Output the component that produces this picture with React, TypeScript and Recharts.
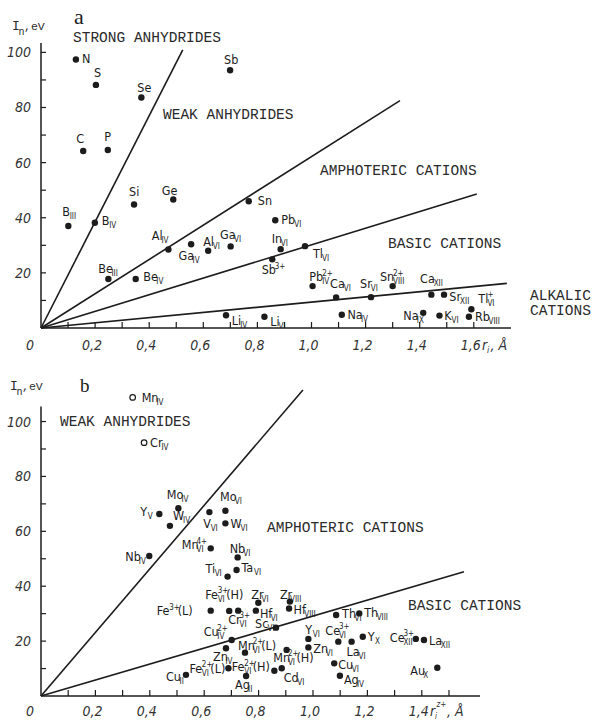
import React from "react";
import { ScatterChart, Scatter, XAxis, YAxis, ReferenceLine } from "recharts";

// ---------------- Panel a data ----------------
const aIon = ["N","S","Se","Sb","C","P","B","B","Si","Ge","Sn","Pb","Al","Ga","Al","Ga","In","Sb","Be","Be","Li","Li","Tl","Pb","Ca","Sr","Sn","Ca","Sr","Tl","Na","Na","K","Rb"];
const aCharge = ["","","","","","","","","","","","","","","","","","3+","","","","","","2+","","","2+","","","+","","","",""];
const aCoord = ["","","","","","","III","IV","","","","VI","IV","IV","VI","VI","VI","","III","IV","IV","VI","VI","IV","VI","VI","VIII","XII","XII","VI","IV","IX","VI","VIII"];
const aRadius = [0.129,0.203,0.371,0.699,0.156,0.247,0.101,0.199,0.344,0.489,0.768,0.866,0.471,0.555,0.618,0.701,0.886,0.855,0.249,0.350,0.684,0.826,0.976,1.004,1.091,1.220,1.300,1.443,1.490,1.591,1.112,1.413,1.473,1.582];
const aEnergy = [97.4,88.2,83.6,93.5,64.2,64.6,37.0,38.2,44.8,46.6,46.0,39.1,28.5,30.4,28.0,29.6,28.6,24.9,17.8,17.8,4.6,4.1,29.7,15.2,11.1,11.2,15.2,12.1,12.1,6.8,4.8,5.5,4.5,4.1];
// boundary lines from the origin (end points)
const aBoundaryR = [0.524, 1.327, 1.611, 1.722];
const aBoundaryI = [100.9, 82.5, 48.6, 16.2];
const aXTicks = [0,0.1,0.2,0.3,0.4,0.5,0.6,0.7,0.8,0.9,1.0,1.1,1.2,1.3,1.4,1.5,1.6];
const aXTickLabels = ["0","","0,2","","0,4","","0,6","","0,8","","1,0","","1,2","","1,4","","1,6"];

// ---------------- Panel b data ----------------
const bOpenIon = ["Mn","Cr"];
const bOpenCoord = ["IV","IV"];
const bOpenRadius = [0.337, 0.379];
const bOpenEnergy = [108.8, 92.3];

const bIon = ["Mo","Y","W","V","Mo","W","Nb","Mn","Nb","Ta","Ti","Fe","Fe","Cr","Zr","Hf","Zr","Hf","Sc","Cu","Mn","Zn","Fe","Fe","Mn","Cd","Ag","Cu","Y","Zn","Th","Th","Ce","La","Y","Cu","Ag","Ce","La","Au"];
const bCharge = ["","","","","","","","4+","","","","3+","3+","3+","","","","","","2+","2+","","2+","2+","2+","","","","","","","","3+","","","","","3+","",""];
const bCoord = ["IV","V","IV","VI","VI","VI","IV","VI","VI","VI","VI","","VI","VI","VI","VI","VIII","VIII","VI","IV","VI","IV","VI","VI","VI","VI","II","II","VI","VI","VI","VIII","VI","VI","X","VI","IV","XII","XII","X"];
const bSpin = ["","","","","","","","","","","","(L)","(H)","","","","","","","","(L)","","(L)","(H)","(H)","","","","","","","","","","","","","","",""];
const bRadius = [0.505,0.435,0.474,0.619,0.678,0.678,0.398,0.624,0.723,0.719,0.686,0.624,0.692,0.725,0.799,0.790,0.915,0.912,0.864,0.701,0.750,0.680,0.689,0.858,0.903,0.885,0.754,0.533,0.983,0.983,1.085,1.170,1.093,1.142,1.183,1.078,1.099,1.378,1.408,1.457];
const bEnergy = [68.4,66.3,62.0,67.0,67.5,62.9,51.0,53.8,50.5,45.9,43.5,31.1,31.0,31.1,34.0,31.1,34.4,31.9,24.9,20.4,15.8,17.4,10.1,9.2,16.8,10.1,7.3,7.7,20.8,17.7,29.5,30.1,19.8,19.8,21.6,11.9,7.4,20.8,20.4,10.3];
const bBoundaryR = [0.963, 1.555];
const bBoundaryI = [111.5, 45.3];
const bXTicks = [0,0.1,0.2,0.3,0.4,0.5,0.6,0.7,0.8,0.9,1.0,1.1,1.2,1.3,1.4,1.5];
const bXTickLabels = ["0","","0,2","","0,4","","0,6","","0,8","","1,0","","1,2","","1,4",""];

const yTicks = [0,10,20,30,40,50,60,70,80,90,100];
const yTickLabels = ["","","20","","40","","60","","80","","100"];

// ---------------- label layout (offsets of label from dot, px) ----------------
const aLabelOffset: [number, number][] = [
  [6,3],[-2,-8],[-4,-5.5],[-6,-6],[-7,-8],[-3.5,-8.5],[-6,-10],[7,2],[-5,-9],[-11.5,-5],
  [9,4],[6,4],[-16.6,-9],[-12.7,15.5],[-5,-5],[-10.7,-7],[-9,-6],[-10.6,15],[-10,-6],[7.6,2],
  [5.7,10],[5.7,9.5],[8,12],[-3.4,-5],[-6,-9],[-11,-9],[-12.7,-5],[-11.3,-12],[5.3,6.5],[7,-6.5],
  [5.6,4],[-20,7.5],[4.7,4.5],[6,4.5],
];
const bOpenLabelOffset: [number, number][] = [[9,4.5],[6,4.5]];
const bLabelOffset: [number, number][] = [
  [-11.6,-9],[-19,2],[3,-6],[-6,15.5],[-5.3,-9.5],[5,5],[-24,4.5],[-29,1],[-8,-4.5],[5,2],
  [-22,-4],[-54,4.5],[-24,-12],[-10,13],[-7,-4],[4,7],[-10,-3],[4.5,6],[-21,0],[-28,-4],
  [-7,-3],[-13,13],[-39,4.5],[-42.6,0.5],[-13.4,12],[2,14],[-11,13],[-20,6],[-3,-4.5],[5,5.5],
  [6,3],[5,4],[-13,-7],[-5,14],[5,4.5],[4,6],[4,8],[-26,3],[5,4.5],[-27,7],
];

const aData = aIon.map((ion, i) => ({
  r: aRadius[i], e: aEnergy[i], ion, charge: aCharge[i], coord: aCoord[i], spin: "", off: aLabelOffset[i], open: false,
}));
const bOpenData = bOpenIon.map((ion, i) => ({
  r: bOpenRadius[i], e: bOpenEnergy[i], ion, charge: "", coord: bOpenCoord[i], spin: "", off: bOpenLabelOffset[i], open: true,
}));
const bData = bIon.map((ion, i) => ({
  r: bRadius[i], e: bEnergy[i], ion, charge: bCharge[i], coord: bCoord[i], spin: bSpin[i], off: bLabelOffset[i], open: false,
}));

// ---------------- styling helpers ----------------
const INK = "#1c1c1c";
const LABEL_FONT = "'Liberation Sans Narrow', 'DejaVu Sans Condensed', sans-serif";
const MONO = "'Liberation Mono', 'DejaVu Sans Mono', monospace";
const AW: Record<string, number> = {
  A:.667,B:.667,C:.722,D:.722,E:.667,F:.611,G:.778,H:.722,I:.278,J:.5,K:.667,L:.556,M:.833,N:.722,O:.778,P:.667,
  Q:.778,R:.722,S:.667,T:.611,U:.722,V:.667,W:.944,X:.667,Y:.667,Z:.611,
  a:.556,b:.556,c:.5,d:.556,e:.556,f:.278,g:.556,h:.556,i:.222,j:.222,k:.5,l:.222,m:.833,n:.556,o:.556,p:.556,
  q:.556,r:.333,s:.5,t:.278,u:.556,v:.5,w:.722,x:.5,y:.5,z:.5,"+":.584,"(":.333,")":.333," ":.278,
};
function textW(s: string, size: number) {
  let w = 0;
  for (const c of s) w += AW[c] ?? 0.556;
  return w * size * 0.82;
}

const BASE = 12.5;
const SMALL = 8;

// one <text> per ion label: base symbol, stacked superscript (charge) / subscript (coordination), spin state
function IonLabel({ x, y, ion, charge, coord, spin }: any) {
  const bw = textW(ion, BASE);
  const sx = x + bw + 0.5;
  const sw = Math.max(textW(charge, SMALL), textW(coord, SMALL));
  const parts: any[] = [<tspan key="b" x={x} y={y} fontSize={BASE}>{ion}</tspan>];
  if (charge) parts.push(<tspan key="c" x={sx} y={y - 5.5} fontSize={SMALL}>{charge}</tspan>);
  if (coord) parts.push(<tspan key="s" x={sx} y={y + 3} fontSize={SMALL}>{coord}</tspan>);
  if (spin) parts.push(<tspan key="p" x={sx + sw + 1} y={y} fontSize={BASE}>{spin}</tspan>);
  return (
    <text fontFamily={LABEL_FONT} fill={INK}>{parts}</text>
  );
}

function IonMark(props: any) {
  const { cx, cy, payload } = props;
  if (cx == null || cy == null || !payload) return null;
  const [dx, dy] = payload.off;
  return (
    <g>
      {payload.open ? (
        <circle cx={cx} cy={cy} r={2.8} fill="#fff" stroke={INK} strokeWidth={1.2} />
      ) : (
        <circle cx={cx} cy={cy} r={3.2} fill={INK} />
      )}
      <IonLabel x={cx + dx} y={cy + dy} ion={payload.ion} charge={payload.charge} coord={payload.coord} spin={payload.spin} />
    </g>
  );
}

function XTick(props: any) {
  const { x, y, payload, ticks, labels, dyLabel } = props;
  const v = payload.value;
  const i = ticks.findIndex((t: number) => Math.abs(t - v) < 1e-6);
  const label = i >= 0 ? labels[i] : "";
  return (
    <g>
      {v !== 0 ? <line x1={x} y1={y} x2={x} y2={y - 6} stroke={INK} strokeWidth={1.2} /> : null}
      {label ? (
        <text x={x + (v === 0 ? -11 : -3)} y={y + dyLabel} textAnchor="middle" fontFamily={LABEL_FONT}
          fontStyle="italic" fontSize={14} fill="#333">{label}</text>
      ) : null}
    </g>
  );
}

function YTick(props: any) {
  const { x, y, payload } = props;
  const v = payload.value;
  const i = yTicks.findIndex((t) => Math.abs(t - v) < 1e-6);
  const label = i >= 0 ? yTickLabels[i] : "";
  if (v === 0) return <g />;
  return (
    <g>
      <line x1={x} y1={y} x2={x + 5} y2={y} stroke={INK} strokeWidth={1.2} />
      {label ? (
        <text x={x - 10} y={y + 5} textAnchor="end" fontFamily={LABEL_FONT} fontStyle="italic"
          fontSize={14} fill="#333">{label}</text>
      ) : null}
    </g>
  );
}

const axisStroke = { stroke: INK, strokeWidth: 1.5 };

function PanelA() {
  return (
    <ScatterChart width={592} height={360} margin={{ top: 43, right: 81, bottom: 0, left: 0 }}>
      <XAxis type="number" dataKey="r" domain={[0, 1.7375]} ticks={aXTicks} interval={0}
        tickSize={0} tickMargin={0} height={32} axisLine={axisStroke} tickLine={false}
        tick={<XTick ticks={aXTicks} labels={aXTickLabels} dyLabel={22} />} allowDataOverflow />
      <YAxis type="number" dataKey="e" domain={[0, 103.4]} ticks={yTicks} interval={0}
        tickSize={0} tickMargin={0} width={41} axisLine={axisStroke} tickLine={false}
        tick={<YTick />} allowDataOverflow />
      {aBoundaryR.map((r, i) => (
        <ReferenceLine key={i} segment={[{ x: 0, y: 0 }, { x: r, y: aBoundaryI[i] }]}
          stroke={INK} strokeWidth={1.6} ifOverflow="visible" />
      ))}
      <Scatter data={aData} dataKey="e" isAnimationActive={false} shape={(p: any) => <IonMark {...p} />} />
    </ScatterChart>
  );
}

function PanelB() {
  return (
    <ScatterChart width={592} height={360} margin={{ top: 28.6, right: 112, bottom: 0, left: 0 }}>
      <XAxis type="number" dataKey="r" domain={[0, 1.614]} ticks={bXTicks} interval={0}
        tickSize={0} tickMargin={0} height={24} axisLine={axisStroke} tickLine={false}
        tick={<XTick ticks={bXTicks} labels={bXTickLabels} dyLabel={20} />} allowDataOverflow />
      <YAxis type="number" dataKey="e" domain={[0, 112]} ticks={yTicks} interval={0}
        tickSize={0} tickMargin={0} width={41} axisLine={false} tickLine={false}
        tick={<YTick />} allowDataOverflow />
      <ReferenceLine segment={[{ x: 0, y: 0 }, { x: 0, y: 105.5 }]} stroke={INK} strokeWidth={1.5} ifOverflow="visible" />
      {bBoundaryR.map((r, i) => (
        <ReferenceLine key={i} segment={[{ x: 0, y: 0 }, { x: r, y: bBoundaryI[i] }]}
          stroke={INK} strokeWidth={1.6} ifOverflow="visible" />
      ))}
      <Scatter data={bOpenData} dataKey="e" isAnimationActive={false} shape={(p: any) => <IonMark {...p} />} />
      <Scatter data={bData} dataKey="e" isAnimationActive={false} shape={(p: any) => <IonMark {...p} />} />
    </ScatterChart>
  );
}

function Region({ x, y, children }: any) {
  return (
    <text x={x} y={y} fontFamily={MONO} fontSize={14.5} fill="#2a2a2a">{children}</text>
  );
}

function YTitle({ x, y }: any) {
  return (
    <text fontFamily={MONO} fill="#2a2a2a">
      <tspan x={x} y={y} fontSize={13}>I</tspan>
      <tspan x={x + 6.5} y={y + 5} fontSize={10}>n</tspan>
      <tspan x={x + 12} y={y} fontSize={11.5}>,eV</tspan>
    </text>
  );
}

function Overlay() {
  return (
    <svg width={592} height={720} style={{ position: "absolute", left: 0, top: 0, pointerEvents: "none" }}>
      {/* panel a */}
      <text x={74} y={24} fontFamily="'Liberation Serif', serif" fontSize={22} fill={INK}>a</text>
      <YTitle x={12} y={30} />
      <Region x={73} y={42}>STRONG ANHYDRIDES</Region>
      <Region x={163} y={119}>WEAK ANHYDRIDES</Region>
      <Region x={320} y={175}>AMPHOTERIC CATIONS</Region>
      <Region x={388} y={248}>BASIC CATIONS</Region>
      <Region x={530} y={300}>ALKALIC</Region>
      <Region x={530} y={315}>CATIONS</Region>
      <text fontFamily={LABEL_FONT} fontStyle="italic" fill="#333">
        <tspan x={482} y={350} fontSize={14}>r</tspan>
        <tspan x={487} y={353} fontSize={9}>i</tspan>
        <tspan x={490.5} y={350} fontSize={14}>, Å</tspan>
      </text>
      {/* panel b */}
      <text x={80} y={392} fontFamily="'Liberation Serif', serif" fontSize={19} fill={INK}>b</text>
      <YTitle x={10} y={390} />
      <Region x={60} y={426}>WEAK ANHYDRIDES</Region>
      <Region x={267} y={532}>AMPHOTERIC CATIONS</Region>
      <Region x={408} y={610}>BASIC CATIONS</Region>
      <text fontFamily={LABEL_FONT} fontStyle="italic" fill="#333">
        <tspan x={430} y={716} fontSize={14}>r</tspan>
        <tspan x={435} y={718.5} fontSize={8}>i</tspan>
        <tspan x={436.5} y={707} fontSize={8}>z+</tspan>
        <tspan x={447} y={716} fontSize={14}>, Å</tspan>
      </text>
    </svg>
  );
}

export default function App() {
  return (
    <div style={{ position: "absolute", left: 0, top: 0, width: 592, height: 720, background: "#fff", overflow: "hidden" }}>
      <div style={{ position: "absolute", left: 0, top: 0 }}>
        <PanelA />
      </div>
      <div style={{ position: "absolute", left: 0, top: 360 }}>
        <PanelB />
      </div>
      <Overlay />
    </div>
  );
}
